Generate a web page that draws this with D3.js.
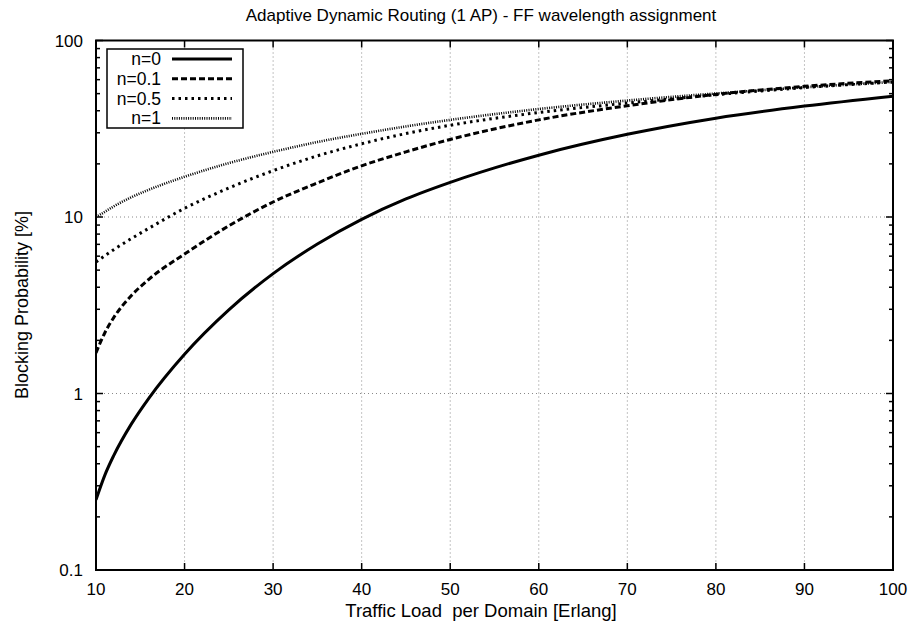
<!DOCTYPE html>
<html><head><meta charset="utf-8">
<script src="https://cdn.jsdelivr.net/npm/d3@7"></script>
<style>body{margin:0;background:#fff}svg{display:block;font-family:"Liberation Sans",Arial,sans-serif}</style>
</head><body><svg id="c" width="915" height="631"></svg>
<script>
const loads = [10, 11, 12, 14, 16, 20, 25, 30, 35, 40, 45, 50, 60, 70, 80, 90, 100];
const n0   = [0.25, 0.345, 0.445, 0.673, 0.946, 1.67, 2.98, 4.78, 7.03, 9.7, 12.65, 15.7, 22.4, 29.4, 36.3, 42.5, 48.4];
const n01  = [1.70, 2.21, 2.69, 3.59, 4.45, 6.17, 8.91, 12.16, 15.6, 19.5, 23.4, 27.5, 35.5, 42.7, 49.5, 55.0, 59.2];
const n05  = [5.56, 6.03, 6.53, 7.55, 8.65, 11.2, 14.6, 18.3, 22.2, 26.0, 29.7, 33.1, 39.1, 44.2, 49.3, 54.1, 58.2];
const n1   = [10, 10.7, 11.48, 12.94, 14.29, 16.9, 20.2, 23.4, 26.6, 29.6, 32.6, 35.5, 40.9, 45.7, 50.1, 54.3, 58.2];
const seriesNames = ["n=0", "n=0.1", "n=0.5", "n=1"];
const xTicks = [10, 20, 30, 40, 50, 60, 70, 80, 90, 100];
const yTicks = [0.1, 1, 10, 100];
const yTickLabels = ["0.1", "1", "10", "100"];

const series = [n0, n01, n05, n1];
const styles = [
  {dash: null, w: 3},
  {dash: "6,3", w: 3},
  {dash: "2.5,4", w: 3},
  {dash: "1,1.3", w: 2.6}
];

const svg = d3.select("#c");
const L = 96, R = 893, T = 40.5, B = 570;
const x = d3.scaleLinear().domain([10, 100]).range([L, R]);
const y = d3.scaleLog().domain([0.1, 100]).range([B, T]);

// grid
const g = svg.append("g");
g.selectAll(".gx").data(xTicks.slice(1, -1)).enter().append("line")
  .attr("x1", d => x(d)).attr("x2", d => x(d)).attr("y1", T).attr("y2", B)
  .attr("stroke", "#888").attr("stroke-width", 1).attr("stroke-dasharray", "1,3");
g.selectAll(".gy").data(yTicks.slice(1, -1)).enter().append("line")
  .attr("x1", L).attr("x2", R).attr("y1", d => y(d)).attr("y2", d => y(d))
  .attr("stroke", "#888").attr("stroke-width", 1).attr("stroke-dasharray", "1,3");

// ticks (inward, mirrored)
const minor = [];
for (let dec = 0.1; dec < 100; dec *= 10) for (let k = 2; k <= 9; k++) minor.push(+(dec * k).toPrecision(3));
const tk = svg.append("g").attr("stroke", "#000").attr("stroke-width", 1.5);
xTicks.forEach(d => {
  tk.append("line").attr("x1", x(d)).attr("x2", x(d)).attr("y1", B).attr("y2", B - 7);
  tk.append("line").attr("x1", x(d)).attr("x2", x(d)).attr("y1", T).attr("y2", T + 7);
});
yTicks.forEach(d => {
  tk.append("line").attr("x1", L).attr("x2", L + 7).attr("y1", y(d)).attr("y2", y(d));
  tk.append("line").attr("x1", R).attr("x2", R - 7).attr("y1", y(d)).attr("y2", y(d));
});
minor.forEach(d => {
  tk.append("line").attr("x1", L).attr("x2", L + 4).attr("y1", y(d)).attr("y2", y(d));
  tk.append("line").attr("x1", R).attr("x2", R - 4).attr("y1", y(d)).attr("y2", y(d));
});

// tick labels
svg.append("g").selectAll("text").data(xTicks).enter().append("text")
  .attr("x", d => x(d)).attr("y", 595).attr("text-anchor", "middle")
  .attr("font-size", 17).text(d => d);
svg.append("g").selectAll("text").data(yTicks).enter().append("text")
  .attr("x", 83).attr("y", d => y(d) + 6).attr("text-anchor", "end")
  .attr("font-size", 17).text((d, i) => yTickLabels[i]);

// curves
const line = d3.line().x(d => x(d[0])).y(d => y(d[1])).curve(d3.curveMonotoneX);
svg.append("clipPath").attr("id", "pc").append("rect")
  .attr("x", L).attr("y", T).attr("width", R - L).attr("height", B - T);
series.forEach((s, i) => {
  svg.append("path").datum(loads.map((l, j) => [l, s[j]]))
    .attr("d", line).attr("fill", "none").attr("stroke", "#000")
    .attr("stroke-width", styles[i].w)
    .attr("stroke-dasharray", styles[i].dash)
    .attr("clip-path", "url(#pc)");
});

// frame
svg.append("rect").attr("x", L).attr("y", T).attr("width", R - L).attr("height", B - T)
  .attr("fill", "none").attr("stroke", "#000").attr("stroke-width", 2);

// legend
const lg = svg.append("g");
lg.append("rect").attr("x", 107).attr("y", 49).attr("width", 136).attr("height", 79)
  .attr("fill", "#fff").attr("stroke", "#000").attr("stroke-width", 1.5);
seriesNames.forEach((nm, i) => {
  const yy = 59 + i * 19.8;
  lg.append("text").attr("x", 161).attr("y", yy + 6).attr("text-anchor", "end")
    .attr("font-size", 17.5).text(nm);
  lg.append("line").attr("x1", 172).attr("x2", 232).attr("y1", yy).attr("y2", yy)
    .attr("stroke", "#000").attr("stroke-width", styles[i].w)
    .attr("stroke-dasharray", styles[i].dash);
});

// titles
svg.append("text").attr("x", 481).attr("y", 21).attr("text-anchor", "middle")
  .attr("font-size", 17).text("Adaptive Dynamic Routing (1 AP) - FF wavelength assignment");
svg.append("text").attr("x", 481).attr("y", 617).attr("text-anchor", "middle")
  .attr("font-size", 18.5).attr("xml:space", "preserve").style("white-space", "pre")
  .text("Traffic Load  per Domain [Erlang]");
svg.append("text").attr("transform", "translate(28,305) rotate(-90)").attr("text-anchor", "middle")
  .attr("font-size", 18).text("Blocking Probability [%]");
</script></body></html>
